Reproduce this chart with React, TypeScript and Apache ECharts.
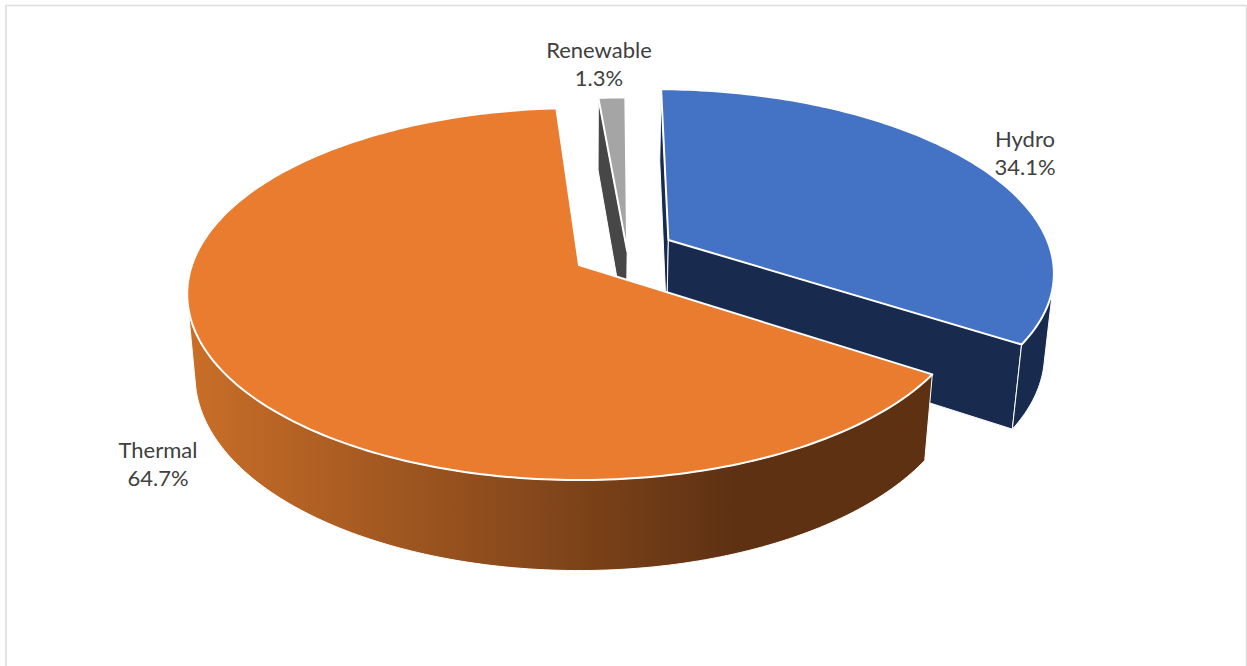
import React, { useEffect, useRef } from "react";
import * as echarts from "echarts";

// Share of generation by source, in clockwise order from the top of the disc.
const categories = ["Hydro", "Thermal", "Renewable"];
const shares = [34.1, 64.7, 1.3];

// Colours per slice, same order as categories.
const topColors = ["#4472C4", "#EA7C30", "#A5A5A5"];
const sideColors: any[] = [
  "#182B4F",
  {
    type: "linear",
    global: true,
    x: 190,
    y: 0,
    x2: 735,
    y2: 0,
    colorStops: [
      { offset: 0, color: "#C96E28" },
      { offset: 1, color: "#5E3113" },
    ],
  },
  "#474747",
];

// How far each slice is pulled out of the disc, in radius units (right, toward viewer).
const explode = [
  [0.236, -0.141],
  [0, 0],
  [0.126, -0.078],
];

// Label anchors in pixels.
const labelAnchors = [
  [1025, 152],
  [158, 463],
  [599, 63],
];

// Painted back to front: thermal sits in front of the other two.
const paintOrder = [0, 2, 1];

// Perspective camera of the disc.
const CX = 579;
const CY = 265;
const RX = 387;
const RY = 181.5;
const DEPTH = 82.5;
const PERSP = 0.156;
const FALLOFF = 0.02;
const FIRST_ANGLE = 0.8;

type Pt = [number, number];

// Projects disc coordinates (u right, v toward viewer, h down through the thickness).
function project(u: number, v: number, h: number): Pt {
  const w = 1 - PERSP * v + FALLOFF * h;
  return [CX + (RX * u) / w, CY + (RY * v + DEPTH * h) / w];
}

function rimPoint(deg: number, off: number[], h: number): Pt {
  const a = (deg * Math.PI) / 180;
  return project(off[0] + Math.sin(a), off[1] - Math.cos(a), h);
}

function rim(a0: number, a1: number, off: number[], h: number): Pt[] {
  const n = Math.max(2, Math.ceil(Math.abs(a1 - a0)));
  const out: Pt[] = [];
  for (let i = 0; i <= n; i++) out.push(rimPoint(a0 + ((a1 - a0) * i) / n, off, h));
  return out;
}

function cross(o: Pt, p: Pt, q: Pt): number {
  return (p[0] - o[0]) * (q[1] - o[1]) - (p[1] - o[1]) * (q[0] - o[0]);
}

// The part of the outer wall whose surface faces the camera, as an angle range.
function frontFacingRange(a0: number, a1: number, off: number[]): [number, number] | null {
  const step = 0.25;
  let start: number | null = null;
  let end = a0;
  for (let a = a0; a < a1; a += step) {
    const b = Math.min(a + step, a1);
    const facing = cross(rimPoint(a, off, 0), rimPoint(b, off, 0), rimPoint(a, off, 1)) < 0;
    if (facing) {
      if (start === null) start = a;
      end = b;
    }
  }
  return start === null ? null : [start, end];
}

const total = shares.reduce((s, v) => s + v, 0);

function sliceAngles(index: number): [number, number] {
  let acc = 0;
  for (let i = 0; i < index; i++) acc += shares[i];
  return [FIRST_ANGLE + (acc / total) * 360, FIRST_ANGLE + ((acc + shares[index]) / total) * 360];
}

function renderSlice(_params: any, api: any) {
  const value = api.value(0);
  const i = api.value(1);
  const [a0, a1] = sliceAngles(i);
  const off = explode[i];
  const apexTop = project(off[0], off[1], 0);
  const apexBottom = project(off[0], off[1], 1);
  const side = sideColors[i];
  const sideStroke = { stroke: "#FFFFFF", lineWidth: 1, lineJoin: "round" };

  const poly = (points: Pt[], fill: any, stroke: any) => ({
    type: "polygon",
    shape: { points },
    style: { fill, ...stroke },
  });

  const children: any[] = [];

  // Radial cut faces, only when they turn toward the camera.
  const startRim = rimPoint(a0, off, 0);
  if (cross(apexTop, startRim, rimPoint(a0, off, 1)) < 0) {
    children.push(poly([apexTop, startRim, rimPoint(a0, off, 1), apexBottom], side, sideStroke));
  }
  const endRim = rimPoint(a1, off, 0);
  if (cross(apexTop, endRim, rimPoint(a1, off, 1)) > 0) {
    children.push(poly([apexTop, endRim, rimPoint(a1, off, 1), apexBottom], side, sideStroke));
  }

  // Outer wall.
  const range = frontFacingRange(a0, a1, off);
  if (range) {
    children.push(
      poly([...rim(range[0], range[1], off, 0), ...rim(range[1], range[0], off, 1)], side, sideStroke)
    );
  }

  // Top surface.
  children.push(
    poly([apexTop, ...rim(a0, a1, off, 0)], topColors[i], {
      stroke: "#FFFFFF",
      lineWidth: 2,
      lineJoin: "round",
    })
  );

  const [lx, ly] = labelAnchors[i];
  children.push({
    type: "text",
    style: {
      text: `${categories[i]}\n${value.toFixed(1)}%`,
      x: lx,
      y: ly,
      fill: "#404040",
      font: "22px Lato",
      lineHeight: 28,
      textAlign: "center",
      textVerticalAlign: "middle",
    },
  });

  return { type: "group", children };
}

export default function App() {
  const ref = useRef<HTMLDivElement>(null);

  useEffect(() => {
    document.body.style.margin = "0";
    document.body.style.background = "#FFFFFF";
    const chart = echarts.init(ref.current!, null, { renderer: "svg" });
    chart.setOption({
      animation: false,
      backgroundColor: "#FFFFFF",
      graphic: [
        {
          type: "polyline",
          shape: {
            points: [
              [6, 680],
              [6, 5.5],
              [1246.5, 5.5],
              [1246.5, 680],
            ],
          },
          style: { stroke: "#DCDCDC", lineWidth: 1.5, fill: "none" },
          silent: true,
        },
      ],
      series: [
        {
          type: "custom",
          coordinateSystem: "none",
          silent: true,
          renderItem: renderSlice,
          data: paintOrder.map((i) => ({ name: categories[i], value: [shares[i], i] })),
        },
      ],
    });
    return () => chart.dispose();
  }, []);

  return <div ref={ref} style={{ width: 1247, height: 666 }} />;
}
